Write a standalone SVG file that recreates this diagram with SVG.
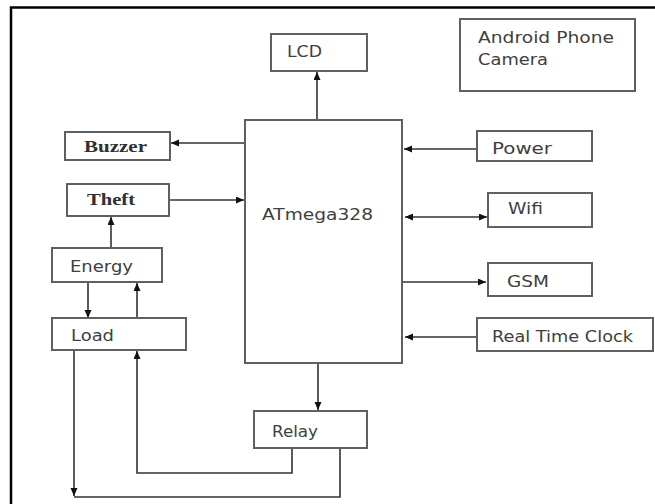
<svg xmlns="http://www.w3.org/2000/svg" width="655" height="504" viewBox="0 0 655 504">
<defs>
<style>
.box{fill:#fff;stroke:#606060;stroke-width:2}
.t{font-family:"DejaVu Sans","Liberation Sans",sans-serif;font-size:15.5px;fill:#404040}
.s{font-family:"Liberation Serif",serif;font-size:17px;font-weight:bold;fill:#303030}
.c{fill:none;stroke:#333;stroke-width:1.6}
.frame{stroke:#000;stroke-width:2.5;fill:none}
</style>
<marker id="ah" markerUnits="userSpaceOnUse" markerWidth="9" markerHeight="8" refX="8" refY="3.5" orient="auto">
<path d="M0,0 L8,3.5 L0,7 z" fill="#111"/>
</marker>
<marker id="as" markerUnits="userSpaceOnUse" markerWidth="9" markerHeight="8" refX="0" refY="3.5" orient="auto">
<path d="M8,0 L0,3.5 L8,7 z" fill="#111"/>
</marker>
</defs>
<rect width="655" height="504" fill="#fff"/>
<path class="frame" d="M11,504 V7.5 H655"/>

<g id="connectors">
<path class="c" d="M317,120 V72" marker-end="url(#ah)"/>
<path class="c" d="M245,143 H171" marker-end="url(#ah)"/>
<path class="c" d="M169,200 H244" marker-end="url(#ah)"/>
<path class="c" d="M111,248 V217" marker-end="url(#ah)"/>
<path class="c" d="M88,282 V318" marker-end="url(#ah)"/>
<path class="c" d="M137,318 V283" marker-end="url(#ah)"/>
<path class="c" d="M477,149 H404" marker-end="url(#ah)"/>
<path class="c" d="M405,217 H487" marker-start="url(#as)" marker-end="url(#ah)"/>
<path class="c" d="M402,282 H486" marker-end="url(#ah)"/>
<path class="c" d="M477,337 H405" marker-end="url(#ah)"/>
<path class="c" d="M318,363 V410" marker-end="url(#ah)"/>
<path class="c" d="M292,448 V473 H137 V351" marker-end="url(#ah)"/>
<path class="c" d="M340,448 V497 H74"/>
<path class="c" d="M74,350 V496" marker-end="url(#ah)"/>
</g>

<g id="lcd"><rect class="box" x="271" y="34" width="96" height="37"/><text class="t" x="287" y="57" textLength="35" lengthAdjust="spacingAndGlyphs">LCD</text></g>
<g id="android"><rect class="box" x="460" y="19" width="175" height="72"/><text class="t" x="478" y="43" textLength="136" lengthAdjust="spacingAndGlyphs">Android Phone</text><text class="t" x="478" y="65" textLength="70" lengthAdjust="spacingAndGlyphs">Camera</text></g>
<g id="atmega"><rect class="box" x="245" y="120" width="157" height="243"/><text class="t" x="262" y="220" textLength="111" lengthAdjust="spacingAndGlyphs">ATmega328</text></g>
<g id="buzzer"><rect class="box" x="65" y="132" width="105" height="28"/><text class="s" x="84" y="152" textLength="63" lengthAdjust="spacingAndGlyphs">Buzzer</text></g>
<g id="theft"><rect class="box" x="67" y="184" width="102" height="32"/><text class="s" x="87" y="205" textLength="48" lengthAdjust="spacingAndGlyphs">Theft</text></g>
<g id="energy"><rect class="box" x="52" y="248" width="110" height="34"/><text class="t" x="70" y="272" textLength="63" lengthAdjust="spacingAndGlyphs">Energy</text></g>
<g id="load"><rect class="box" x="52" y="318" width="134" height="32"/><text class="t" x="71" y="341" textLength="43" lengthAdjust="spacingAndGlyphs">Load</text></g>
<g id="power"><rect class="box" x="477" y="131" width="115" height="30"/><text class="t" x="492" y="154" textLength="60" lengthAdjust="spacingAndGlyphs">Power</text></g>
<g id="wifi"><rect class="box" x="488" y="193" width="104" height="34"/><text class="t" x="508" y="214" textLength="35" lengthAdjust="spacingAndGlyphs">Wifi</text></g>
<g id="gsm"><rect class="box" x="488" y="263" width="104" height="33"/><text class="t" x="507" y="287" textLength="42" lengthAdjust="spacingAndGlyphs">GSM</text></g>
<g id="rtc"><rect class="box" x="477" y="318" width="176" height="33"/><text class="t" x="492" y="342" textLength="141" lengthAdjust="spacingAndGlyphs">Real Time Clock</text></g>
<g id="relay"><rect class="box" x="254" y="411" width="113" height="37"/><text class="t" x="272" y="437" textLength="46" lengthAdjust="spacingAndGlyphs">Relay</text></g>
</svg>
